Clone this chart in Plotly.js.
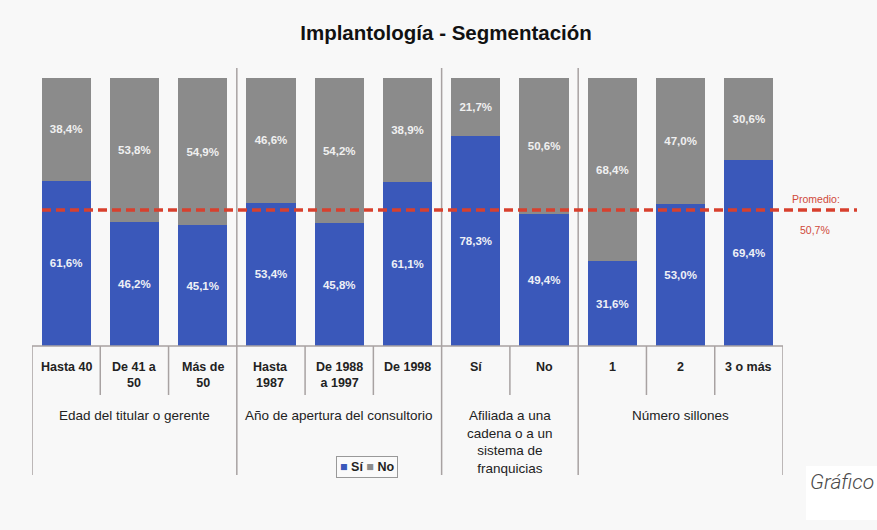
<!DOCTYPE html>
<html>
<head>
<meta charset="utf-8">
<script src="https://cdn.plot.ly/plotly-3.0.1.min.js"></script>
<style>html,body{margin:0;padding:0;background:#f8f8f8;}#chart{width:877px;height:530px;}</style>
</head>
<body>
<div id="chart"></div>
<script>
const categories = ['Hasta 40','De 41 a 50','Más de 50','Hasta 1987','De 1988 a 1997','De 1998','Sí','No','1','2','3 o más'];
const tickLabels = ['Hasta 40','De 41 a<br>50','Más de<br>50','Hasta<br>1987','De 1988<br>a 1997','De 1998','Sí','No','1','2','3 o más'];
const siValues = [61.6, 46.2, 45.1, 53.4, 45.8, 61.1, 78.3, 49.4, 31.6, 53.0, 69.4];
const noValues = [38.4, 53.8, 54.9, 46.6, 54.2, 38.9, 21.7, 50.6, 68.4, 47.0, 30.6];
const groupLabels = ['Edad del titular o gerente','Año de apertura del consultorio','Afiliada a una<br>cadena o a un<br>sistema de<br>franquicias','Número sillones'];
const groupCenters = [1, 4, 6.5, 9];
const groupBounds = [2.5, 5.5, 7.5];
const innerBounds = [0.5, 1.5, 3.5, 4.5, 6.5, 8.5, 9.5];
const average = 50.7;

const W = 877, H = 530, L = 32, R = 94, T = 78, B = 184;
const PW = W - L - R, PH = H - T - B;
const px = x => (x - L) / PW;
const py = y => (H - B - y) / PH;

const BLUE = '#3a58ba', GRAY = '#8b8b8b', SEP = '#a8a2a2';

const traces = [
  {type:'bar', name:'Sí', x:categories, y:siValues, width:0.72,
   marker:{color:BLUE}, texttemplate:'<b>%{y:.1f}%</b>', textposition:'inside',
   insidetextanchor:'middle', textangle:0, constraintext:'none',
   textfont:{color:'#eef0f6', size:11.5, family:'Liberation Sans, Arial'}, hoverinfo:'skip'},
  {type:'bar', name:'No', x:categories, y:noValues, width:0.72,
   marker:{color:GRAY}, texttemplate:'<b>%{y:.1f}%</b>', textposition:'inside',
   insidetextanchor:'middle', textangle:0, constraintext:'none',
   textfont:{color:'#f0f0f0', size:11.5, family:'Liberation Sans, Arial'}, hoverinfo:'skip'}
];

const shapes = [];
shapes.push({type:'rect', xref:'paper', yref:'paper', x0:px(806), x1:px(880), y0:py(520), y1:py(466),
  fillcolor:'#ffffff', line:{width:0}, layer:'below'});
shapes.push({type:'line', xref:'x', yref:'paper', x0:-0.5, x1:10.5, y0:0, y1:0, line:{color:SEP, width:1.5}});
groupBounds.forEach(b => shapes.push({type:'line', xref:'x', yref:'paper', x0:b, x1:b, y0:py(475), y1:py(68), line:{color:SEP, width:1.5}}));
[-0.5, 10.5].forEach(b => shapes.push({type:'line', xref:'x', yref:'paper', x0:b, x1:b, y0:py(475), y1:0, line:{color:SEP, width:1.5}}));
innerBounds.forEach(b => shapes.push({type:'line', xref:'x', yref:'paper', x0:b, x1:b, y0:py(395), y1:0, line:{color:SEP, width:1.5}}));
shapes.push({type:'line', xref:'paper', yref:'y', x0:px(42), x1:px(857), y0:average, y1:average,
  line:{color:'#d8402e', width:3.5, dash:'9px,5px'}, layer:'above'});

const annotations = [];
categories.forEach((c, i) => annotations.push({xref:'x', yref:'paper', x:i, y:py(358), yanchor:'top', xanchor:'center',
  text:'<b>' + tickLabels[i] + '</b>', showarrow:false, font:{size:12.5, color:'#222', family:'Liberation Sans, Arial'}}));
groupLabels.forEach((g, i) => annotations.push({xref:'x', yref:'paper', x:groupCenters[i], y:py(406), yanchor:'top', xanchor:'center',
  text:g, showarrow:false, font:{size:13.5, color:'#222', family:'Liberation Sans, Arial'}}));
annotations.push({xref:'paper', yref:'paper', x:px(816), y:py(199), xanchor:'center', yanchor:'middle', text:'Promedio:', showarrow:false,
  font:{size:10.5, color:'#d04a3a', family:'Liberation Sans, Arial'}});
annotations.push({xref:'paper', yref:'paper', x:px(815), y:py(230), xanchor:'center', yanchor:'middle', text:average.toFixed(1).replace('.', ',') + '%', showarrow:false,
  font:{size:10.5, color:'#d04a3a', family:'Liberation Sans, Arial'}});
annotations.push({xref:'paper', yref:'paper', x:px(367), y:py(467), xanchor:'center', yanchor:'middle',
  text:'<span style="color:' + BLUE + '">■</span> <b>Sí</b> <span style="color:' + GRAY + '">■</span> <b>No</b>',
  showarrow:false, bordercolor:'#999', borderwidth:1, borderpad:3, bgcolor:'#fafafa',
  font:{size:12.5, color:'#222', family:'Liberation Sans, Arial'}});
annotations.push({xref:'paper', yref:'paper', x:px(808), y:py(482), xanchor:'left', yanchor:'middle', text:'<i>Gráfico</i>', showarrow:false,
  font:{size:21, color:'#4a4a4a', family:'Roboto, Liberation Sans, Arial', weight:300}});

const layout = {
  width:W, height:H, margin:{l:L, r:R, t:T, b:B},
  paper_bgcolor:'#f8f8f8', plot_bgcolor:'rgba(0,0,0,0)',
  separators:',.', barmode:'stack', showlegend:false,
  title:{text:'<b>Implantología - Segmentación</b>', xref:'container', yref:'container',
    x:446/W, xanchor:'center', y:1 - 33/H, yanchor:'middle',
    font:{size:20.5, color:'#111', family:'Liberation Sans, Arial'}},
  xaxis:{type:'category', range:[-0.5, 10.5], showticklabels:false, showgrid:false, zeroline:false, showline:false, ticks:'', fixedrange:true},
  yaxis:{range:[0, 100], visible:false, fixedrange:true},
  shapes:shapes, annotations:annotations
};

Plotly.newPlot('chart', traces, layout, {displayModeBar:false, staticPlot:true});
</script>
</body>
</html>
